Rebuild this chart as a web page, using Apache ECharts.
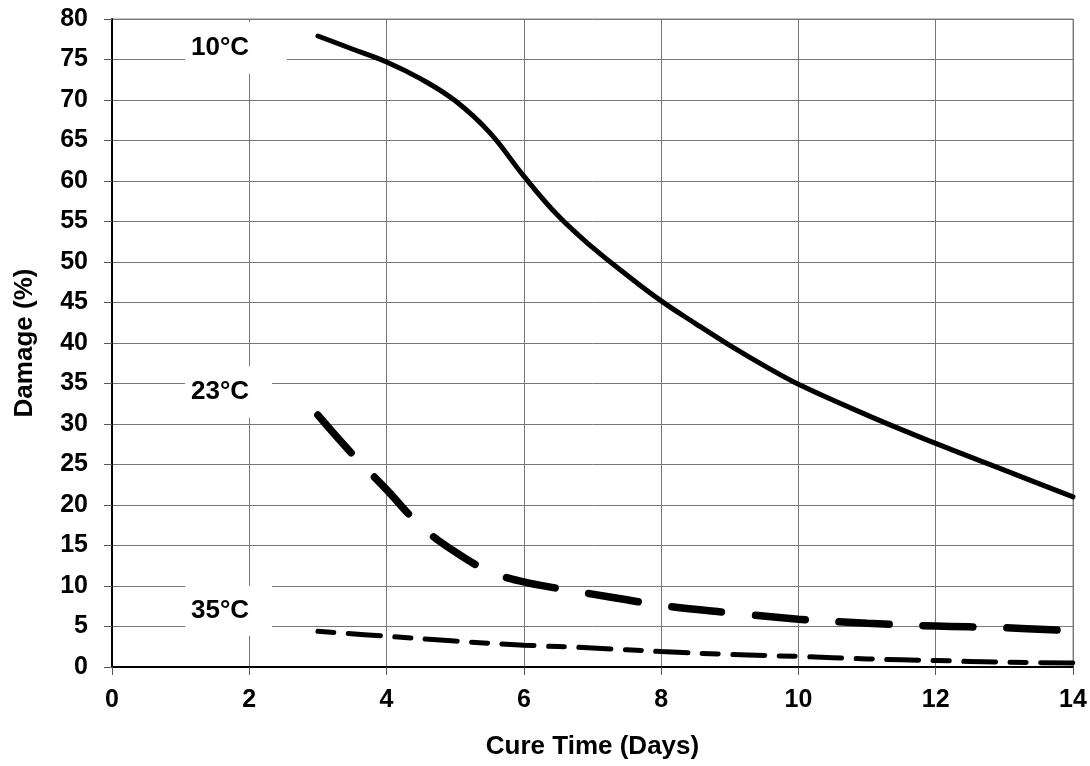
<!DOCTYPE html>
<html>
<head>
<meta charset="utf-8">
<script src="https://cdn.jsdelivr.net/npm/echarts@6/dist/echarts.min.js"></script>
<style>
html,body{margin:0;padding:0;background:#fff;}
#chart{width:1090px;height:766px;}
</style>
</head>
<body>
<div id="chart"></div>
<script>
// Data
var days10 = [3, 3.5, 4, 4.5, 5, 5.5, 6, 6.5, 7, 7.5, 8, 8.5, 9, 9.5, 10, 11, 12, 13, 14];
var damage10 = [77.9, 76.3, 74.7, 72.6, 69.9, 66.0, 60.6, 55.7, 51.8, 48.4, 45.2, 42.4, 39.7, 37.2, 34.9, 31.1, 27.6, 24.3, 21.0];

var days23 = [3, 3.5, 4, 4.5, 5, 5.5, 6, 6.5, 7, 7.5, 8, 9, 10, 11, 12, 13, 14];
var damage23 = [31.1, 26.3, 21.9, 17.4, 14.2, 11.8, 10.5, 9.7, 9.0, 8.3, 7.6, 6.7, 5.9, 5.4, 5.05, 4.85, 4.45];

var days35 = [3, 4, 5, 6, 7, 8, 9, 10, 11, 12, 13, 14];
var damage35 = [4.4, 3.8, 3.2, 2.7, 2.35, 1.9, 1.55, 1.3, 1.0, 0.8, 0.6, 0.5];

var seriesLabels = ['10°C', '23°C', '35°C'];
var xTitle = 'Cure Time (Days)';
var yTitle = 'Damage (%)';

function pairs(xs, ys) {
  return xs.map(function (x, i) { return [x, ys[i]]; });
}

var FONT = '"Liberation Sans", Arial, Helvetica, sans-serif';
var chart = echarts.init(document.getElementById('chart'));

function labelBox(text, x, y, w, h) {
  return {
    type: 'group',
    z: 100,
    children: [
      { type: 'rect', shape: { x: x, y: y, width: w, height: h }, style: { fill: '#fff' }, z: 100 },
      { type: 'text', x: x + 6, y: y + h / 2, z: 101,
        style: { text: text, fill: '#000', font: 'bold 26px ' + FONT, verticalAlign: 'middle', align: 'left' } }
    ]
  };
}

chart.setOption({
  animation: false,
  backgroundColor: '#fff',
  grid: { left: 112, top: 19, right: 17, bottom: 99, show: true, borderColor: '#888', borderWidth: 1 },
  xAxis: {
    type: 'value', min: 0, max: 14, interval: 2,
    name: xTitle, nameLocation: 'middle', nameGap: 67,
    nameTextStyle: { fontFamily: FONT, fontWeight: 'bold', fontSize: 26, color: '#000' },
    axisLine: { show: true, onZero: false, lineStyle: { color: '#000', width: 2 } },
    axisTick: { show: true, inside: false, length: 8, lineStyle: { color: '#555', width: 1 } },
    axisLabel: { fontFamily: FONT, fontWeight: 'bold', fontSize: 25, color: '#000', margin: 21 },
    splitLine: { show: true, lineStyle: { color: '#777', width: 1 } }
  },
  yAxis: {
    type: 'value', min: 0, max: 80, interval: 5,
    name: yTitle, nameLocation: 'middle', nameGap: 74, nameRotate: 90,
    nameTextStyle: { fontFamily: FONT, fontWeight: 'bold', fontSize: 26, color: '#000' },
    axisLine: { show: true, onZero: false, lineStyle: { color: '#000', width: 2 } },
    axisTick: { show: true, inside: false, length: 8, lineStyle: { color: '#555', width: 1 } },
    axisLabel: { fontFamily: FONT, fontWeight: 'bold', fontSize: 25, color: '#000', margin: 24 },
    splitLine: { show: true, lineStyle: { color: '#777', width: 1 } }
  },
  series: [
    {
      name: seriesLabels[0], type: 'line', data: pairs(days10, damage10),
      smooth: 0.4, showSymbol: false, clip: false, z: 5,
      lineStyle: { color: '#000', width: 5, cap: 'round' }
    },
    {
      name: seriesLabels[1], type: 'line', data: pairs(days23, damage23),
      smooth: 0.4, showSymbol: false, clip: false, z: 5,
      lineStyle: { color: '#000', width: 7.5, cap: 'round', type: [50, 34] }
    },
    {
      name: seriesLabels[2], type: 'line', data: pairs(days35, damage35),
      smooth: 0.4, showSymbol: false, clip: false, z: 5,
      lineStyle: { color: '#000', width: 5, cap: 'round', type: [16, 14.5, 32, 14.5] }
    }
  ],
  graphic: [
    labelBox(seriesLabels[0], 185, 22, 102, 52),
    labelBox(seriesLabels[1], 185, 366, 87, 52),
    labelBox(seriesLabels[2], 185, 586, 87, 50)
  ]
});
</script>
</body>
</html>
